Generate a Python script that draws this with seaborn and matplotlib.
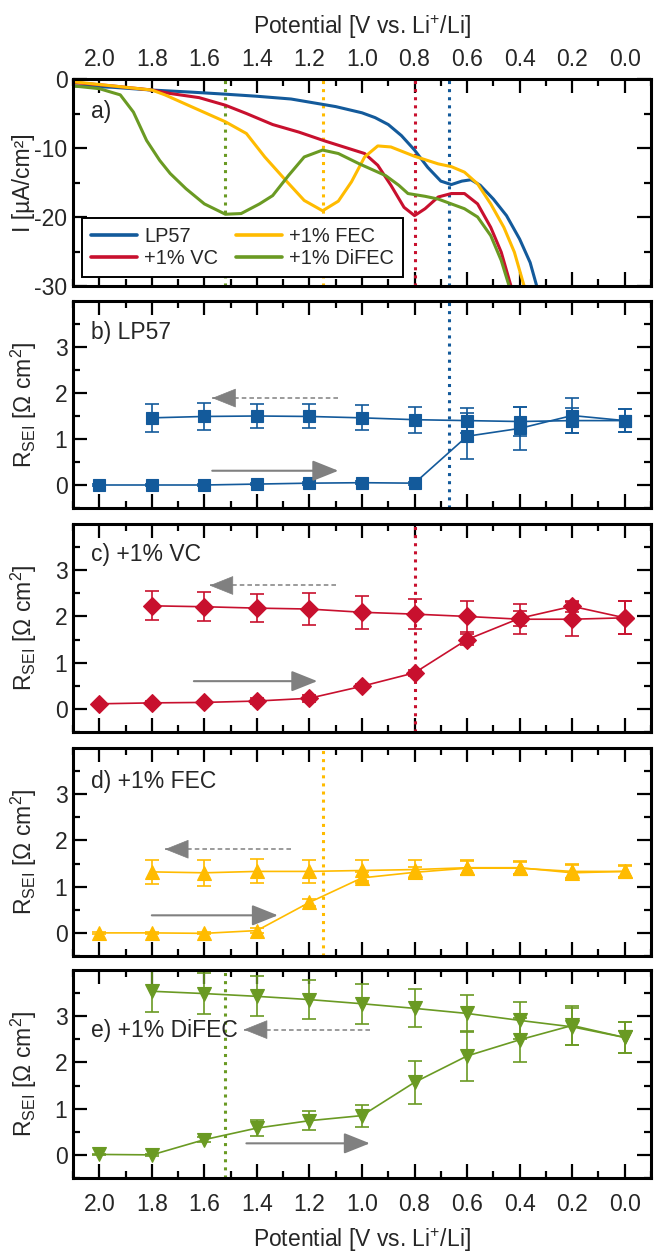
"""SEI resistance vs. potential for LP57 and additive electrolytes."""

import matplotlib
matplotlib.use("Agg")
import matplotlib.pyplot as plt
from matplotlib.ticker import MultipleLocator, FixedLocator, FormatStrFormatter
import seaborn as sns

# ---- panel a: CV currents [uA/cm2] ------------------------------------------
lp57_v = [2.10, 1.95, 1.80, 1.65, 1.52, 1.40, 1.27, 1.10, 1.00, 0.95, 0.90, 0.85,
          0.80, 0.75, 0.70, 0.66, 0.62, 0.585, 0.55, 0.50, 0.45, 0.40, 0.36, 0.335]
lp57_i = [-1.0, -1.2, -1.6, -1.9, -2.2, -2.5, -2.9, -4.0, -4.9, -5.6, -6.6, -8.2,
          -10.3, -12.8, -14.8, -15.3, -14.8, -14.6, -15.4, -17.4, -19.8, -23.2, -26.6, -30.0]

vc_v = [2.10, 1.95, 1.80, 1.73, 1.62, 1.52, 1.44, 1.34, 1.24, 1.14, 1.09, 0.99,
        0.94, 0.89, 0.84, 0.80, 0.76, 0.71, 0.66, 0.61, 0.56, 0.51, 0.47, 0.433]
vc_i = [-0.5, -1.0, -1.6, -2.1, -2.7, -3.8, -5.0, -6.6, -7.7, -9.0, -9.6, -10.8,
        -12.5, -15.4, -18.6, -19.8, -18.8, -17.1, -16.6, -16.6, -18.1, -21.5, -25.1, -30.0]

fec_v = [2.10, 1.95, 1.80, 1.75, 1.65, 1.52, 1.44, 1.37, 1.29, 1.22, 1.15, 1.09, 1.04,
         0.99, 0.94, 0.89, 0.80, 0.71, 0.66, 0.61, 0.56, 0.51, 0.46, 0.42, 0.383]
fec_i = [-0.4, -1.0, -1.6, -2.3, -4.0, -6.2, -7.9, -11.3, -14.7, -17.6, -19.1, -17.7, -14.9,
         -11.3, -9.7, -9.85, -11.2, -12.3, -12.7, -13.5, -15.2, -18.1, -21.5, -25.1, -30.0]

difec_v = [2.10, 2.00, 1.92, 1.87, 1.82, 1.77, 1.73, 1.67, 1.60, 1.52, 1.46, 1.39, 1.34,
           1.28, 1.22, 1.15, 1.09, 1.01, 0.91, 0.86, 0.825, 0.76, 0.71, 0.66, 0.61, 0.56,
           0.51, 0.47, 0.44]
difec_i = [-1.0, -1.4, -2.3, -4.8, -8.9, -11.8, -13.7, -15.9, -18.1, -19.6, -19.5, -18.1, -16.9,
           -14.0, -11.3, -10.3, -10.8, -12.3, -14.0, -15.4, -16.6, -17.0, -17.4, -18.1, -18.8, -20.0,
           -22.7, -26.3, -30.0]

# ---- panels b-e: R_SEI [Ohm cm2] --------------------------------------------
fwd_v = [2.0, 1.8, 1.6, 1.4, 1.2, 1.0, 0.8, 0.6, 0.4, 0.2, 0.0]
bwd_v = [1.8, 1.6, 1.4, 1.2, 1.0, 0.8, 0.6, 0.4, 0.2, 0.0]

lp57_fwd = [0.00, 0.00, 0.00, 0.02, 0.04, 0.05, 0.04, 1.06, 1.23, 1.51, 1.40]
lp57_fwd_err = [0.02, 0.02, 0.02, 0.03, 0.03, 0.03, 0.03, 0.50, 0.46, 0.38, 0.25]
lp57_bwd = [1.46, 1.49, 1.50, 1.49, 1.46, 1.42, 1.40, 1.38, 1.40, 1.40]
lp57_bwd_err = [0.31, 0.29, 0.27, 0.26, 0.27, 0.28, 0.28, 0.32, 0.27, 0.25]

vc_fwd = [0.11, 0.13, 0.14, 0.17, 0.23, 0.49, 0.78, 1.50, 1.96, 2.22, 1.97]
vc_fwd_err = [0.02, 0.03, 0.03, 0.06, 0.08, 0.04, 0.06, 0.12, 0.16, 0.12, 0.36]
vc_bwd = [2.23, 2.21, 2.18, 2.16, 2.09, 2.05, 2.00, 1.94, 1.94, 1.97]
vc_bwd_err = [0.31, 0.31, 0.31, 0.34, 0.36, 0.33, 0.34, 0.33, 0.37, 0.36]

fec_fwd = [0.00, 0.00, -0.01, 0.05, 0.66, 1.19, 1.31, 1.40, 1.40, 1.33, 1.33]
fec_fwd_err = [0.02, 0.02, 0.02, 0.05, 0.07, 0.12, 0.12, 0.15, 0.13, 0.15, 0.12]
fec_bwd = [1.32, 1.30, 1.33, 1.33, 1.35, 1.37, 1.41, 1.41, 1.30, 1.33]
fec_bwd_err = [0.26, 0.28, 0.26, 0.25, 0.22, 0.20, 0.16, 0.14, 0.16, 0.13]

difec_fwd = [0.01, 0.00, 0.33, 0.58, 0.74, 0.85, 1.57, 2.14, 2.49, 2.80, 2.54]
difec_fwd_err = [0.02, 0.02, 0.05, 0.18, 0.20, 0.24, 0.46, 0.55, 0.47, 0.43, 0.34]
difec_bwd = [3.54, 3.49, 3.43, 3.36, 3.27, 3.17, 3.06, 2.91, 2.77, 2.54]
difec_bwd_err = [0.45, 0.45, 0.43, 0.43, 0.43, 0.41, 0.40, 0.40, 0.40, 0.34]

names = ["LP57", "+1% VC", "+1% FEC", "+1% DiFEC"]
peak_v = [0.67, 0.80, 1.15, 1.52]
colors = ["#135a9b", "#c8102e", "#ffbb00", "#6a9a23"]
markers = ["s", "D", "^", "v"]
marker_sizes = [8.7, 8.7, 10.5, 10.5]

sns.set_theme(style="ticks")
plt.rcParams["font.family"] = ["Liberation Sans", "DejaVu Sans"]
plt.rcParams["mathtext.fontset"] = "custom"
plt.rcParams["mathtext.rm"] = "Liberation Sans"
plt.rcParams["axes.unicode_minus"] = False

FS = 16.5
W, H = 655, 1254
LEFT, RIGHT = 73, 651
panel_px = [(79, 286), (301, 508), (524, 732), (748, 956), (970, 1178)]
ARROW_GREY = "#808080"
HEAD = "-|>,head_length=0.8,head_width=0.32"

fig = plt.figure(figsize=(W / 100, H / 100), dpi=100)
axes = []
for top, bot in panel_px:
    axes.append(fig.add_axes([LEFT / W, 1 - bot / H, (RIGHT - LEFT) / W, (bot - top) / H]))


def style_axis(ax):
    ax.set_xlim(2.1, -0.1)
    ax.xaxis.set_major_locator(MultipleLocator(0.2))
    ax.xaxis.set_minor_locator(MultipleLocator(0.1))
    ax.xaxis.set_major_formatter(FormatStrFormatter("%.1f"))
    ax.tick_params(which="both", direction="in", top=True, right=True,
                   labeltop=False, labelbottom=False, labelsize=FS, color="black")
    ax.tick_params(which="major", length=10, width=1.6)
    ax.tick_params(which="minor", length=5, width=1.6)
    ax.tick_params(axis="y", pad=4)
    for sp in ax.spines.values():
        sp.set_linewidth(2.2)
        sp.set_color("black")
    ax.grid(False)


def dashed_arrow(ax, tail, head, y):
    # dashed shaft, solid filled head
    ax.plot([tail, head], [y, y], color=ARROW_GREY, linestyle=(0, (3, 2)), linewidth=1.1)
    step = 0.07 if head < tail else -0.07
    ax.annotate("", xy=(head, y), xytext=(head + step, y),
                arrowprops=dict(arrowstyle=HEAD, color=ARROW_GREY, linewidth=0.5,
                                mutation_scale=20, shrinkA=0, shrinkB=0))


def solid_arrow(ax, tail, head, y):
    ax.annotate("", xy=(head, y), xytext=(tail, y),
                arrowprops=dict(arrowstyle=HEAD, color=ARROW_GREY, linewidth=1.5,
                                mutation_scale=20, shrinkA=0, shrinkB=0))


# ---- panel a ----------------------------------------------------------------
ax = axes[0]
for v, i, name, col in zip([lp57_v, vc_v, fec_v, difec_v], [lp57_i, vc_i, fec_i, difec_i],
                           names, colors):
    sns.lineplot(x=v, y=i, sort=False, estimator=None, color=col, linewidth=2.2,
                 label=name, ax=ax)
for pv, col in zip(peak_v, colors):
    ax.axvline(pv, color=col, linestyle=":", linewidth=2.2, zorder=1)
style_axis(ax)
ax.set_ylim(-30, 0)
ax.yaxis.set_major_locator(MultipleLocator(10))
ax.yaxis.set_minor_locator(MultipleLocator(5))
ax.tick_params(axis="x", labeltop=True, pad=6)
ax.xaxis.set_label_position("top")
ax.set_xlabel("Potential [V vs. Li$^{+}$/Li]", fontsize=FS)
ax.xaxis.set_label_coords(0.5, 1.215)
ax.set_ylabel("I [µA/cm²]", fontsize=FS)
ax.yaxis.set_label_coords(-0.066, 0.5)
ax.text(0.032, 0.845, "a)", transform=ax.transAxes, fontsize=FS, va="center")
leg = ax.legend(loc="lower left", ncol=2, fontsize=14.4, frameon=True, fancybox=False,
                framealpha=1, edgecolor="black", borderaxespad=0.45, borderpad=0.45,
                handlelength=2.3, handletextpad=0.35, columnspacing=0.9, labelspacing=0.15)
leg.get_frame().set_linewidth(1.4)
for h in leg.get_lines():
    h.set_linewidth(2.6)

# ---- panels b-e -------------------------------------------------------------
r_sets = [
    (lp57_fwd, lp57_fwd_err, lp57_bwd, lp57_bwd_err),
    (vc_fwd, vc_fwd_err, vc_bwd, vc_bwd_err),
    (fec_fwd, fec_fwd_err, fec_bwd, fec_bwd_err),
    (difec_fwd, difec_fwd_err, difec_bwd, difec_bwd_err),
]
letters = ["b)", "c)", "d)", "e)"]
label_y = [0.846, 0.851, 0.838, 0.707]
# arrows: (dashed tail, dashed head, dashed y, solid tail, solid head, solid y)
arrows = [
    (1.09, 1.57, 1.89, 1.57, 1.09, 0.31),
    (1.10, 1.58, 2.67, 1.64, 1.17, 0.60),
    (1.27, 1.75, 1.81, 1.80, 1.32, 0.38),
    (0.97, 1.45, 2.71, 1.44, 0.97, 0.25),
]

for k in range(4):
    ax = axes[k + 1]
    col = colors[k]
    fwd, fwd_err, bwd, bwd_err = r_sets[k]
    ax.axvline(peak_v[k], color=col, linestyle=":", linewidth=2.2, zorder=1)
    for xv, yv, err in [(fwd_v, fwd, fwd_err), (bwd_v, bwd, bwd_err)]:
        ax.errorbar(xv, yv, yerr=err, fmt="none", ecolor=col, elinewidth=1.2,
                    capsize=5.3, capthick=1.2, zorder=2)
        sns.lineplot(x=xv, y=yv, sort=False, estimator=None, color=col, linewidth=1.2,
                     marker=markers[k], markersize=marker_sizes[k], markeredgecolor=col,
                     markeredgewidth=0.8, legend=False, ax=ax, zorder=3)
    style_axis(ax)
    ax.set_ylim(-0.5, 4.0)
    ax.yaxis.set_major_locator(FixedLocator([0, 1, 2, 3]))
    ax.yaxis.set_minor_locator(FixedLocator([-0.5, 0.5, 1.5, 2.5, 3.5]))
    ax.set_xlabel("")
    ax.set_ylabel("R$_{\\mathregular{SEI}}$ [Ω cm$^{\\mathregular{2}}$]", fontsize=FS)
    ax.yaxis.set_label_coords(-0.059, 0.5)
    ax.text(0.032, label_y[k], f"{letters[k]} {names[k]}", transform=ax.transAxes,
            fontsize=FS, va="center")
    dt, dh, dy, st, sh, sy = arrows[k]
    dashed_arrow(ax, dt, dh, dy)
    solid_arrow(ax, st, sh, sy)

ax = axes[4]
ax.tick_params(axis="x", labelbottom=True, pad=11)
ax.set_xlabel("Potential [V vs. Li$^{+}$/Li]", fontsize=FS)
ax.xaxis.set_label_coords(0.5, -0.232)

fig.savefig("out.png", dpi=100)
plt.close(fig)
